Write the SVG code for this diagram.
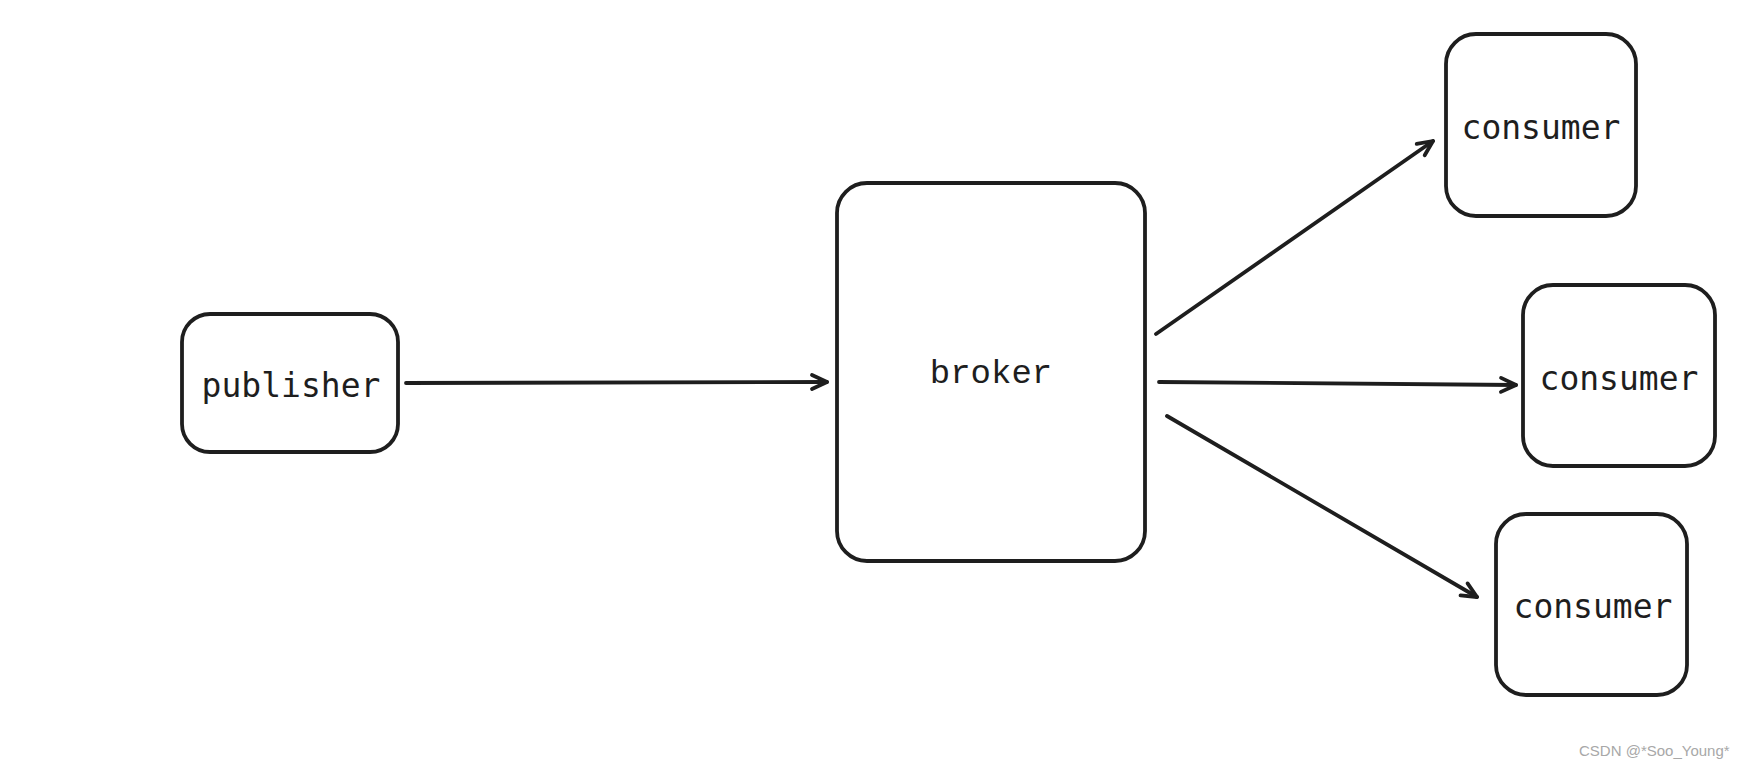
<svg xmlns="http://www.w3.org/2000/svg" width="1760" height="770" viewBox="0 0 1760 770">
<style>
.box{fill:#ffffff;stroke:#1e1e1e;stroke-width:3.8}
.lbl{font-family:"DejaVu Sans Mono","Liberation Mono",monospace;font-size:33px;fill:#1e1e1e;text-anchor:middle;dominant-baseline:central}
.lbl2{font-family:"Liberation Mono","DejaVu Sans Mono",monospace;font-size:34px;fill:#1e1e1e;text-anchor:middle;dominant-baseline:central}
.edge{fill:none;stroke:#1e1e1e;stroke-width:3.8;stroke-linecap:round;marker-end:url(#ah)}
.wm{font-family:"Liberation Sans",Arial,sans-serif;font-size:15px;fill:#a8a8a8}
</style>
<defs>
<marker id="ah" viewBox="-18 -10 22 20" refX="0" refY="0" markerWidth="22" markerHeight="20" markerUnits="userSpaceOnUse" orient="auto">
<path d="M-15,-7 L0,0 L-15,7" fill="none" stroke="#1e1e1e" stroke-width="3.8" stroke-linecap="round" stroke-linejoin="round"/>
</marker>
</defs>
<rect width="1760" height="770" fill="#ffffff"/>
<g id="connectors">
<line class="edge" x1="406" y1="383" x2="827" y2="382"/>
<line class="edge" x1="1156" y1="334" x2="1433" y2="141"/>
<line class="edge" x1="1159" y1="382" x2="1516" y2="385"/>
<line class="edge" x1="1167" y1="416" x2="1477" y2="597"/>
</g>
<g id="publisher">
<rect class="box" x="182" y="314" width="216" height="138" rx="28"/>
<text class="lbl" x="291" y="385">publisher</text>
</g>
<g id="broker">
<rect class="box" x="837" y="183" width="308" height="378" rx="30"/>
<text class="lbl2" x="991" y="374">broker</text>
</g>
<g id="consumer1">
<rect class="box" x="1446" y="34" width="190" height="182" rx="30"/>
<text class="lbl" x="1541" y="127">consumer</text>
</g>
<g id="consumer2">
<rect class="box" x="1523" y="285" width="192" height="181" rx="30"/>
<text class="lbl" x="1619" y="378">consumer</text>
</g>
<g id="consumer3">
<rect class="box" x="1496" y="514" width="191" height="181" rx="30"/>
<text class="lbl" x="1593" y="606">consumer</text>
</g>
<text class="wm" x="1579" y="756">CSDN @*Soo_Young*</text>
</svg>
